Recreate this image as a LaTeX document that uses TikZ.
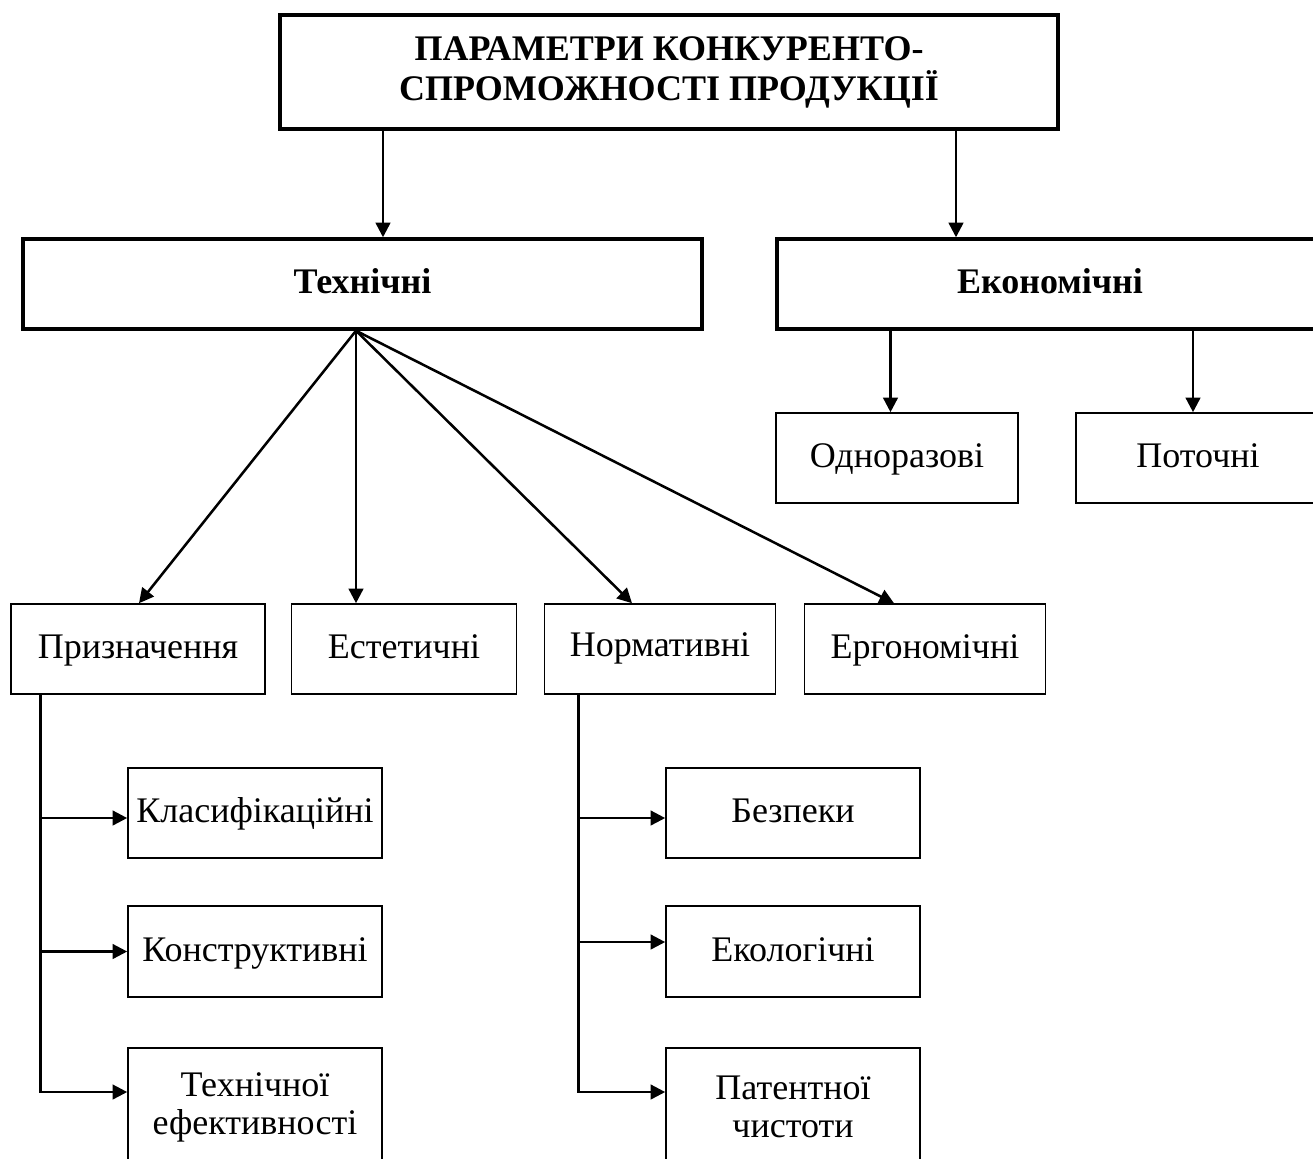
\documentclass[tikz,border=0pt]{standalone}
\usepackage{fontspec}
\setmainfont{Liberation Serif}
\usetikzlibrary{arrows.meta,calc,positioning}

\tikzset{every picture/.style={line width=1.5pt}}
\tikzset{
  bigbox/.style={draw,line width=2.6pt,inner sep=0pt,align=center,font=\bfseries\fontsize{27}{30}\selectfont},
  smallbox/.style={draw,line width=1.2pt,inner sep=0pt,align=center,font=\fontsize{27}{28.5}\selectfont},
  onerow/.style={text height=20.25pt,text depth=5.4pt},
  conn/.style={line width=1.9pt},
  arr/.style={conn,-{Triangle[length=11pt,width=11pt]}},
}

\begin{document}
\begin{tikzpicture}[x=0.75pt,y=0.75pt,yscale=-1,xscale=1]
\useasboundingbox (0,0) rectangle (1313,1158);
\clip (0,0) rectangle (1313,1158);

% Top level
\node [bigbox,minimum width=583.5pt,minimum height=85.5pt] (top) at (669,72) {ПАРАМЕТРИ КОНКУРЕНТО-\\СПРОМОЖНОСТІ ПРОДУКЦІЇ};
\node [bigbox,onerow,minimum width=509.25pt,minimum height=67.5pt] (tech) at (362.5,284) {Технічні};
\node [bigbox,onerow,minimum width=409.5pt,minimum height=67.5pt] (econ) at (1050,284) {Економічні};

% Economic group
\node [smallbox,onerow,minimum width=181.5pt,minimum height=67.5pt] (odn) at (897,458) {Одноразові};
\node [smallbox,onerow,minimum width=183pt,minimum height=67.5pt] (pot) at (1198,458) {Поточні};

% Technical group
\node [smallbox,onerow,minimum width=190.5pt,minimum height=67.5pt] (priz) at (138,649) {Призначення};
\node [smallbox,onerow,minimum width=168.75pt,minimum height=67.5pt] (est) at (404,649) {Естетичні};
\node [smallbox,onerow,text depth=8.4pt,minimum width=173.25pt,minimum height=67.5pt] (norm) at (660,649) {Нормативні};
\node [smallbox,onerow,minimum width=180.75pt,minimum height=67.5pt] (erg) at (925,649) {Ергономічні};

% Purpose sub-items
\node [smallbox,onerow,minimum width=190.5pt,minimum height=67.5pt] (klas) at (255,813) {Класифікаційні};
\node [smallbox,onerow,minimum width=190.5pt,minimum height=68.25pt] (konst) at (255,951.5) {Конструктивні};
\node [smallbox,minimum width=190.5pt,minimum height=88.5pt] (tef) at (255,1107) {Технічної\\ефективності};

% Normative sub-items
\node [smallbox,onerow,minimum width=190.5pt,minimum height=67.5pt] (bez) at (793,813) {Безпеки};
\node [smallbox,onerow,minimum width=190.5pt,minimum height=68.25pt] (eko) at (793,951.5) {Екологічні};
\node [smallbox,minimum width=190.5pt,minimum height=88.5pt] (pat) at (793,1107) {Патентної\\чистоти};

% Arrows from the top box
\coordinate (ta) at (383,0);
\coordinate (ea) at (956,0);
\draw [arr] (top.south -| ta) -- (tech.north -| ta);
\draw [arr] (top.south -| ea) -- (econ.north -| ea);

% Arrows from the economic box
\draw [arr] (econ.south -| odn.north) ++(-6.5,0) coordinate (e1) -- (odn.north -| e1);
\draw [arr] (econ.south -| pot.north) ++(-5,0) coordinate (e2) -- (pot.north -| e2);

% Fan from the technical box
\coordinate (fan) at ($(tech.south)+(-6.5,0)$);
\draw [arr] (fan) -- ($(priz.north)+(1,0)$);
\draw [arr] (fan) -- ($(est.north)+(-48,0)$);
\draw [arr] (fan) -- ($(norm.north)+(-28,0)$);
\draw [arr] (fan) -- ($(erg.north)+(-31,0)$);

% Branches
\coordinate (pl) at ($(priz.south west)+(30.5,0)$);
\coordinate (pr) at ($(norm.south west)+(35,0)$);
\foreach \n/\d in {klas/5,konst/0,tef/-15}
  \draw [arr] (pl) |- ($(\n.west)+(0,\d)$);
\foreach \n/\d in {bez/5,eko/-9.5,pat/-15}
  \draw [arr] (pr) |- ($(\n.west)+(0,\d)$);

\end{tikzpicture}
\end{document}
